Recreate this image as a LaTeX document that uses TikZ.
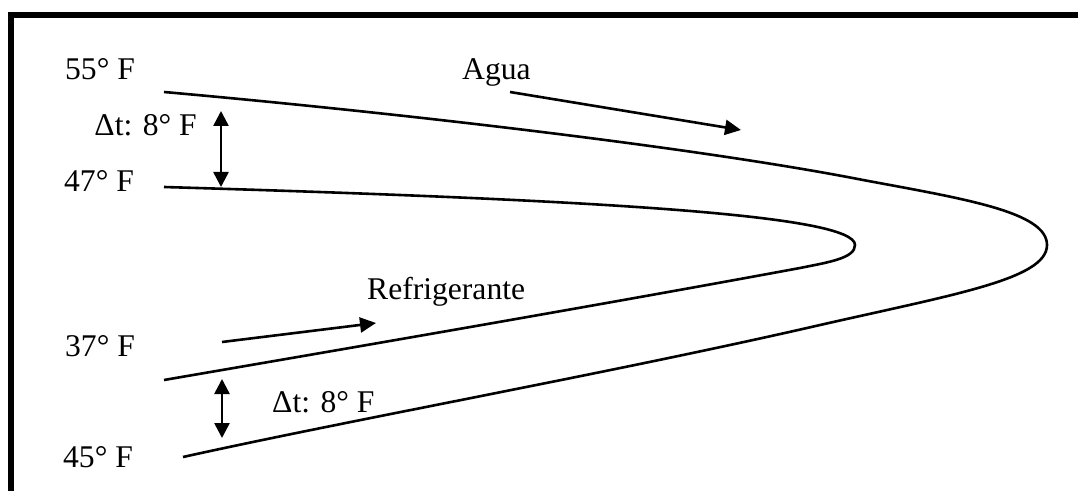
\documentclass[tikz,border=0pt]{standalone}
\usepackage{fontspec}
\setmainfont{Liberation Serif}
\usetikzlibrary{arrows.meta}
\begin{document}
\begin{tikzpicture}[x=1bp,y=-1bp,
  lbl/.style={inner sep=0pt,font=\fontsize{31.6bp}{38bp}\selectfont},
  curve/.style={line width=2.6bp},
  flow/.style={line width=2.6bp,-{Triangle[length=16bp,width=15bp]}},
  dbl/.style={line width=2.6bp,{Triangle[length=15bp,width=15bp]}-{Triangle[length=15bp,width=15bp]}}]
\useasboundingbox (0,0) rectangle (1078,491);
% frame
\draw[line width=6bp,line join=miter] (11,495) -- (11,15.5) -- (1082,15.5);
% labels
\node[lbl,anchor=base west] (t55) at (65,80) {55° F};
\node[lbl,anchor=base east] (dtu) at (197,136) {Δt: 8° F};
\node[lbl,anchor=base west] (t47) at (64,192) {47° F};
\node[lbl,anchor=base west] (t37) at (65,357) {37° F};
\node[lbl,anchor=base west] (t45) at (63,467) {45° F};
\node[lbl,anchor=base west] (agua) at (462,80) {Agua};
\node[lbl,anchor=base west] (dtl) at (272,412) {Δt: 8° F};
\node[lbl,anchor=base west] (refr) at (367,300) {Refrigerante};
% water curve
\draw[curve] (164,92) .. controls (400,113) and (700,148) .. (863,180)
  .. controls (965,199) and (1047,212) .. (1047,245)
  .. controls (1047,280) and (950,295) .. (807,328)
  .. controls (600,375) and (350,420) .. (183,457);
% refrigerant curve
\draw[curve] (164,187) .. controls (600,200) and (855,215) .. (855,245)
  .. controls (855,258) and (830,262) .. (800,268)
  .. controls (600,305) and (350,348) .. (164,380);
% flow arrows
\coordinate (a1) at (510,92);
\coordinate (a2) at (741,130);
\draw[flow] (a1) -- (a2);
\coordinate (r1) at (222,342);
\coordinate (r2) at (376,323);
\draw[flow] (r1) -- (r2);
% delta t arrows
\coordinate (u1) at (221,111);
\coordinate (u2) at (221,187);
\draw[dbl] (u1) -- (u2);
\coordinate (l1) at (222,379);
\coordinate (l2) at (222,438);
\draw[dbl] (l1) -- (l2);
\end{tikzpicture}
\end{document}
